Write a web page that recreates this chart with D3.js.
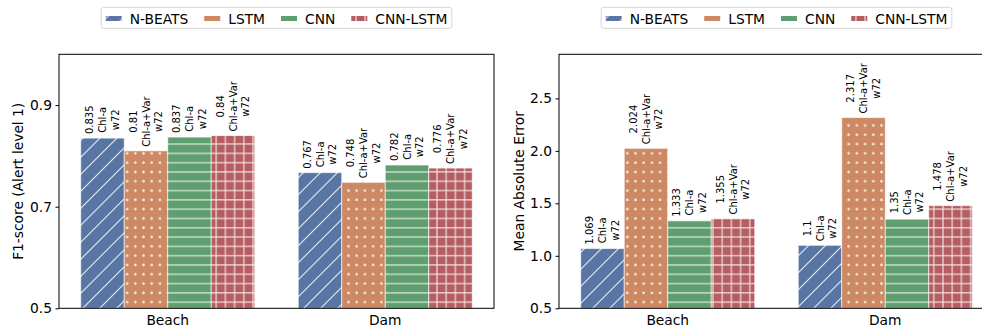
<!DOCTYPE html>
<html>
<head>
<meta charset="utf-8">
<script src="https://cdn.jsdelivr.net/npm/d3@7"></script>
<style>
  body { margin: 0; background: #fff; }
  text { font-family: "DejaVu Sans", sans-serif; fill: #000; }
</style>
</head>
<body>
<script>
// data
var categories = ["Beach", "Dam"]
var models     = ["N-BEATS", "LSTM", "CNN", "CNN-LSTM"]
var colors     = ["#5975a4", "#cc8963", "#5f9e6e", "#b55d60"]
var hatches    = ["hatchDiag", "hatchDots", "hatchLines", "hatchGrid"]
var features   = ["Chl-a", "Chl-a+Var", "Chl-a", "Chl-a+Var"]
var windowTag  = "w72"

// values per model, [Beach, Dam]
var f1Values  = [[0.835, 0.767], [0.81, 0.748], [0.837, 0.782], [0.84, 0.776]]
var maeValues = [[1.069, 1.1], [2.024, 2.317], [1.333, 1.35], [1.355, 1.478]]

var f1Ticks  = [0.5, 0.7, 0.9]
var maeTicks = [0.5, 1.0, 1.5, 2.0, 2.5]

var W = 982, H = 332
var fontSize = 13.8
var svg = d3.select("body").append("svg")
    .attr("width", W)
    .attr("height", H)

// hatch patterns
var defs = svg.append("defs")
var hatchStroke = "rgba(255,255,255,0.85)"

var p = defs.append("pattern").attr("id", "hatchDiag")
    .attr("patternUnits", "userSpaceOnUse").attr("width", 17).attr("height", 17)
p.append("rect").attr("width", 17).attr("height", 17).attr("fill", colors[0])
p.append("path").attr("d", "M0,17 L17,0 M-4,4 L4,-4 M13,21 L21,13")
    .attr("stroke", hatchStroke).attr("stroke-width", 1.1)

p = defs.append("pattern").attr("id", "hatchDots")
    .attr("patternUnits", "userSpaceOnUse").attr("width", 8.2).attr("height", 9.3)
p.append("rect").attr("width", 8.2).attr("height", 9.3).attr("fill", colors[1])
p.append("circle").attr("cx", 4.1).attr("cy", 4.6).attr("r", 1.3).attr("fill", hatchStroke)

p = defs.append("pattern").attr("id", "hatchLines")
    .attr("patternUnits", "userSpaceOnUse").attr("width", 9.3).attr("height", 9.3)
p.append("rect").attr("width", 9.3).attr("height", 9.3).attr("fill", colors[2])
p.append("path").attr("d", "M0,4.6 L9.3,4.6")
    .attr("stroke", hatchStroke).attr("stroke-width", 1.1)

p = defs.append("pattern").attr("id", "hatchGrid")
    .attr("patternUnits", "userSpaceOnUse").attr("width", 9.2).attr("height", 9.3)
p.append("rect").attr("width", 9.2).attr("height", 9.3).attr("fill", colors[3])
p.append("path").attr("d", "M0,4.6 L9.2,4.6 M4.6,0 L4.6,9.3")
    .attr("stroke", hatchStroke).attr("stroke-width", 1.1)

var panels = [
    {values: f1Values,  ticks: f1Ticks,  domain: [0.5, 1.0],  label: "F1-score (Alert level 1)", left: 59,  labelX: 18},
    {values: maeValues, ticks: maeTicks, domain: [0.5, 2.92], label: "Mean Absolute Error",      left: 559, labelX: 519}
]
var plotTop = 54.3, plotBottom = 308.3, plotW = 435

panels.forEach(function(panel) {
    var g = svg.append("g")

    var x0 = d3.scaleBand().domain(categories)
        .range([panel.left, panel.left + plotW])
        .paddingInner(0.2).paddingOuter(0.1)
    var x1 = d3.scaleBand().domain(models).range([0, x0.bandwidth()])
    var y = d3.scaleLinear().domain(panel.domain).range([plotBottom, plotTop])

    // bars
    models.forEach(function(m, mi) {
        categories.forEach(function(c, ci) {
            var v = panel.values[mi][ci]
            var bx = x0(c) + x1(m)
            g.append("rect")
                .attr("x", bx)
                .attr("y", y(v))
                .attr("width", x1.bandwidth())
                .attr("height", y(panel.domain[0]) - y(v))
                .attr("fill", "url(#" + hatches[mi] + ")")
                .attr("stroke", "rgba(255,255,255,0.6)")
                .attr("stroke-width", 1)

            // value labels, rotated, centre aligned lines
            var lines = [String(v), features[mi], windowTag]
            var cx = bx + x1.bandwidth() / 2
            var lineGap = 12.8
            var texts = lines.map(function(t) {
                return g.append("text")
                    .attr("text-anchor", "middle")
                    .attr("dy", "0.35em")
                    .style("font-size", "10px")
                    .text(t)
            })
            var maxLen = d3.max(texts, function(t) { return t.node().getComputedTextLength() })
            var yc = y(v) - 4 - maxLen / 2
            texts.forEach(function(t, li) {
                t.attr("transform", "translate(" + (cx + (li - 1) * lineGap) + "," + yc + ") rotate(-90)")
            })
        })
    })

    // axes
    var yAxis = g.append("g")
        .attr("transform", "translate(" + panel.left + ",0)")
        .call(d3.axisLeft(y).tickValues(panel.ticks).tickFormat(d3.format(".1f"))
            .tickSize(3.5).tickPadding(3.5))
    yAxis.select(".domain").remove()
    yAxis.selectAll("text").style("font-size", fontSize + "px").style("font-family", "DejaVu Sans")
    yAxis.selectAll("line").attr("stroke", "#000")

    var xAxis = g.append("g")
        .attr("transform", "translate(0," + plotBottom + ")")
        .call(d3.axisBottom(x0).tickSize(0).tickPadding(7))
    xAxis.select(".domain").remove()
    xAxis.selectAll("text").style("font-size", fontSize + "px").style("font-family", "DejaVu Sans")

    // frame
    g.append("rect")
        .attr("x", panel.left).attr("y", plotTop)
        .attr("width", plotW).attr("height", plotBottom - plotTop)
        .attr("fill", "none").attr("stroke", "#000").attr("stroke-width", 1)

    g.append("text")
        .attr("transform", "translate(" + panel.labelX + "," + ((plotTop + plotBottom) / 2) + ") rotate(-90)")
        .attr("text-anchor", "middle")
        .attr("dy", "0.35em")
        .style("font-size", fontSize + "px")
        .text(panel.label)

    // legend
    var legBox = g.append("rect")
    var leg = g.append("g")
    var cursor = 0
    models.forEach(function(m, mi) {
        var it = leg.append("g")
        it.append("rect").attr("x", 0).attr("y", -2.5).attr("width", 16).attr("height", 5)
            .attr("fill", "url(#" + hatches[mi] + ")")
        var t = it.append("text").attr("x", 24).attr("y", 5).style("font-size", fontSize + "px").text(m)
        it.attr("transform", "translate(" + cursor + ",0)")
        cursor += 24 + t.node().getComputedTextLength() + 16
    })
    var legW = cursor - 16
    var centerX = panel.left + plotW / 2
    var lx = centerX - legW / 2
    leg.attr("transform", "translate(" + lx + ",18.5)")
    legBox
        .attr("x", lx - 4.5).attr("y", 7.3)
        .attr("width", legW + 9).attr("height", 21)
        .attr("rx", 2.5)
        .attr("fill", "#fff").attr("stroke", "#d6d6d6").attr("stroke-width", 1)
})
</script>
</body>
</html>
